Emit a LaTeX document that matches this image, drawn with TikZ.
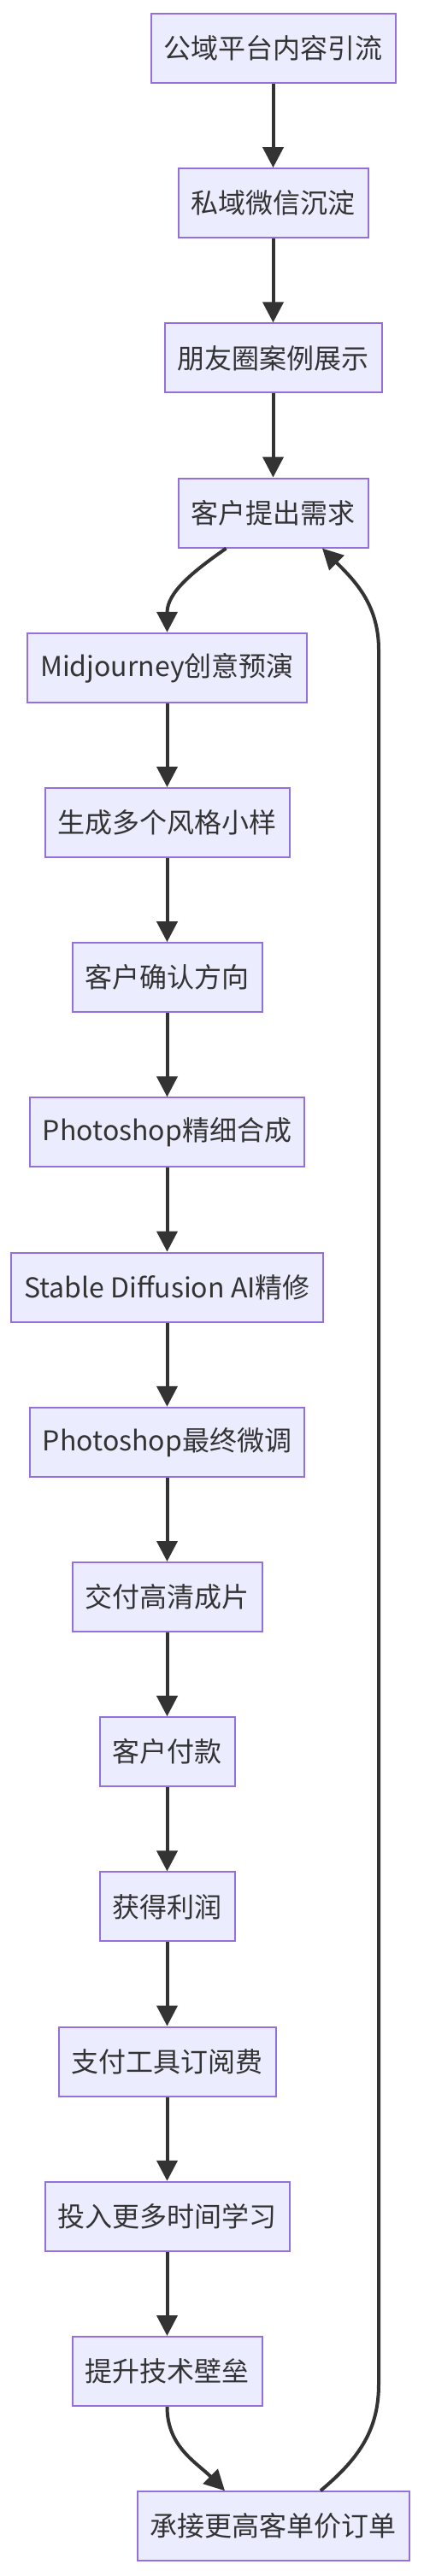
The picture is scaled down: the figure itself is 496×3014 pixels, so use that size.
\documentclass[tikz,border=0pt]{standalone}
\usepackage{fontspec}
\setmainfont{Noto Sans CJK SC}
\usepackage{tikz}
\usetikzlibrary{arrows.meta}
\definecolor{boxfill}{HTML}{ECECFF}
\definecolor{boxline}{HTML}{9370DB}
\definecolor{ink}{HTML}{333333}
\tikzstyle{stepbox} = [rectangle, minimum height=40.5pt, inner xsep=7.5pt, text centered, draw=boxline, line width=1pt, fill=boxfill, text=ink, font=\fontsize{16}{19}\selectfont]
\tikzstyle{arrow} = [line width=2pt, draw=ink, -{Triangle[length=12pt,width=12pt]}]

\begin{document}
\begin{tikzpicture}[x=0.5pt, y=-0.5pt, node distance=90.6pt]
\useasboundingbox (0,0) rectangle (496,3014);
\node (pub) [stepbox] at (319.5,56.5) {公域平台内容引流};
\node (priv) [stepbox, below of=pub] {私域微信沉淀};
\node (moments) [stepbox, below of=priv] {朋友圈案例展示};
\node (req) [stepbox, below of=moments] {客户提出需求};
\node (mj) [stepbox, below of=req, xshift=-62pt] {Midjourney创意预演};
\node (samples) [stepbox, below of=mj] {生成多个风格小样};
\node (confirm) [stepbox, below of=samples] {客户确认方向};
\node (pscomp) [stepbox, below of=confirm] {Photoshop精细合成};
\node (sdfix) [stepbox, below of=pscomp] {Stable Diffusion AI精修};
\node (pstune) [stepbox, below of=sdfix] {Photoshop最终微调};
\node (deliver) [stepbox, below of=pstune] {交付高清成片};
\node (pay) [stepbox, below of=deliver] {客户付款};
\node (profit) [stepbox, below of=pay] {获得利润};
\node (subs) [stepbox, below of=profit] {支付工具订阅费};
\node (study) [stepbox, below of=subs] {投入更多时间学习};
\node (moat) [stepbox, below of=study] {提升技术壁垒};
\node (order) [stepbox, below of=moat, xshift=62pt] {承接更高客单价订单};
\coordinate (loopbot) at (443,2790);
\coordinate (looptop) at (443,760);

\draw [arrow] (pub) -- (priv);
\draw [arrow] (priv) -- (moments);
\draw [arrow] (moments) -- (req);
\draw [arrow] ([xshift=-27.5pt]req.south) to[out=215,in=90] (mj.north);
\draw [arrow] (mj) -- (samples);
\draw [arrow] (samples) -- (confirm);
\draw [arrow] (confirm) -- (pscomp);
\draw [arrow] (pscomp) -- (sdfix);
\draw [arrow] (sdfix) -- (pstune);
\draw [arrow] (pstune) -- (deliver);
\draw [arrow] (deliver) -- (pay);
\draw [arrow] (pay) -- (profit);
\draw [arrow] (profit) -- (subs);
\draw [arrow] (subs) -- (study);
\draw [arrow] (study) -- (moat);
\draw [arrow] (moat.south) to[out=-90,in=135] ([xshift=-28.25pt]order.north);
\draw [arrow] ([xshift=27.75pt]order.north) to[out=40,in=-90] (loopbot) -- (looptop) to[out=90,in=-45] ([xshift=28.75pt]req.south);
\end{tikzpicture}
\end{document}
